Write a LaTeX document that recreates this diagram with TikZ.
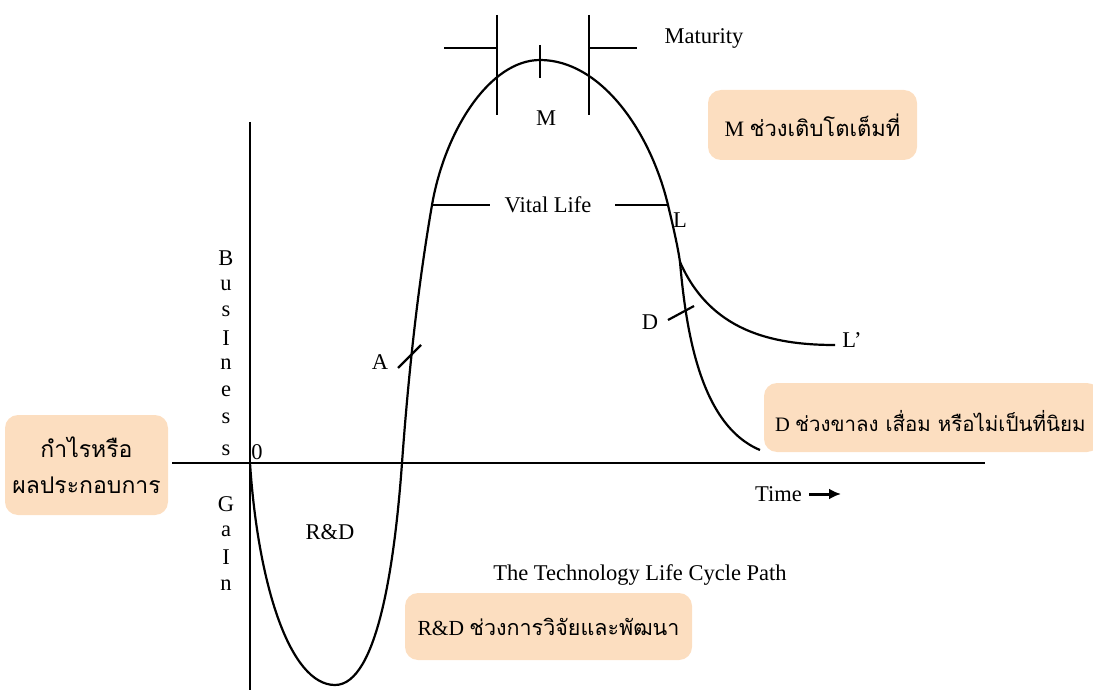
\documentclass[tikz,border=0pt]{standalone}
\usepackage{fontspec}
\setmainfont{Liberation Serif}
\newfontfamily\thai[Script=Thai]{Loma}
\usetikzlibrary{arrows.meta}
\definecolor{peach}{RGB}{252,222,192}
\tikzset{
  curve/.style={line width=2.2pt},
  axis/.style={line width=2.2pt},
  tick/.style={line width=2.2pt},
  lbl/.style={font=\fontsize{22.5}{26}\selectfont, inner sep=0pt},
  vlet/.style={font=\fontsize{22.5}{26}\selectfont, inner sep=0pt},
  box/.style={fill=peach, rounded corners=13pt, inner sep=0pt}
}
\begin{document}
\begin{tikzpicture}[x=1pt,y=-1pt]
\useasboundingbox (0,0) rectangle (1093,690);
% axes
\coordinate (hx0) at (172,463); \coordinate (hx1) at (985,463);
\coordinate (vy0) at (250,122); \coordinate (vy1) at (250,690);
\draw[axis] (hx0) -- (hx1);
\draw[axis] (vy0) -- (vy1);
% main curve
\coordinate (o) at (250,463);
\coordinate (rdmin) at (335,685);
\coordinate (cross) at (402,463);
\coordinate (vl) at (432,205);
\coordinate (peak) at (540,60);
\coordinate (vr) at (668,205);
\coordinate (br) at (680,262);
\coordinate (dend) at (760,450);
\coordinate (lend) at (835,345);
\draw[curve] (o) .. controls (258,585) and (290,685) .. (rdmin)
  .. controls (378,685) and (395,560) .. (cross)
  .. controls (409,366) and (419,280) .. (vl)
  .. controls (445,130) and (490,60) .. (peak)
  .. controls (600,60) and (650,130) .. (vr)
  .. controls (674,230) and (678,248) .. (br)
  .. controls (686,330) and (700,425) .. (dend);
\draw[curve] (br) .. controls (710,330) and (770,345) .. (lend);
% vital life
\node[lbl] (vital) at (548,205) {Vital Life};
\draw[tick] (vl) -- (490,205);
\draw[tick] (615,205) -- (vr);
% maturity ticks
\draw[tick] (497,15) -- (497,115);
\draw[tick] (444,48) -- (497,48);
\draw[tick] (589,15) -- (589,115);
\draw[tick] (589,48) -- (637,48);
\draw[tick] (540,45) -- (540,78);
\node[lbl] (mat) at (704,38) {Maturity};
\node[lbl] (m) at (546,118) {M};
% A, D ticks
\draw[tick] (398,368) -- (421,345);
\node[lbl] (a) at (380,362) {A};
\draw[tick] (668,320) -- (694,306);
\node[lbl] (d) at (650,322) {D};
\node[lbl] (l) at (680,220) {L};
\node[lbl] (lp) at (852,340) {L’};
\node[lbl] (zero) at (257,452) {0};
\node[lbl] (rd) at (330,532) {R\&D};
\node[lbl] (title) at (640,575) {The Technology Life Cycle Path};
\node[lbl,anchor=west] (time) at (755,494) {Time};
\coordinate (ta) at (809,494); \coordinate (tb) at (841,494);
\draw[-{Latex[length=12pt,width=11pt]},line width=3pt] (ta) -- (tb);
% vertical letters
\foreach \t/\yy in {B/258,u/285,s/311,I/338,n/364,e/391,s/418,s/450,G/504,a/531,I/557,n/585}
  \node[vlet] at (226,\yy) {\t};
% boxes
\node[box, minimum width=209pt, minimum height=70pt, font=\fontsize{22}{30}\selectfont] (bm) at (812.5,125) {M {\thai ช่วงเติบโตเต็มที่}};
\node[box, minimum width=163pt, minimum height=100pt, align=center, font=\fontsize{23}{36}\selectfont] (bl) at (86.5,465) {{\thai กำไรหรือ}\\{\thai ผลประกอบการ}};
\node[box, minimum width=336pt, minimum height=69pt] (bd) at (932,417.5) {};
\node[anchor=west, inner sep=0pt, font=\fontsize{20.5}{26}\selectfont] (bdt) at (775,421) {D {\thai ช่วงขาลง เสื่อม หรือไม่เป็นที่นิยม}};
\node[box, minimum width=287pt, minimum height=67pt, font=\fontsize{21.5}{30}\selectfont] (br2) at (548.5,626.5) {R\&D {\thai ช่วงการวิจัยและพัฒนา}};
\end{tikzpicture}
\end{document}
